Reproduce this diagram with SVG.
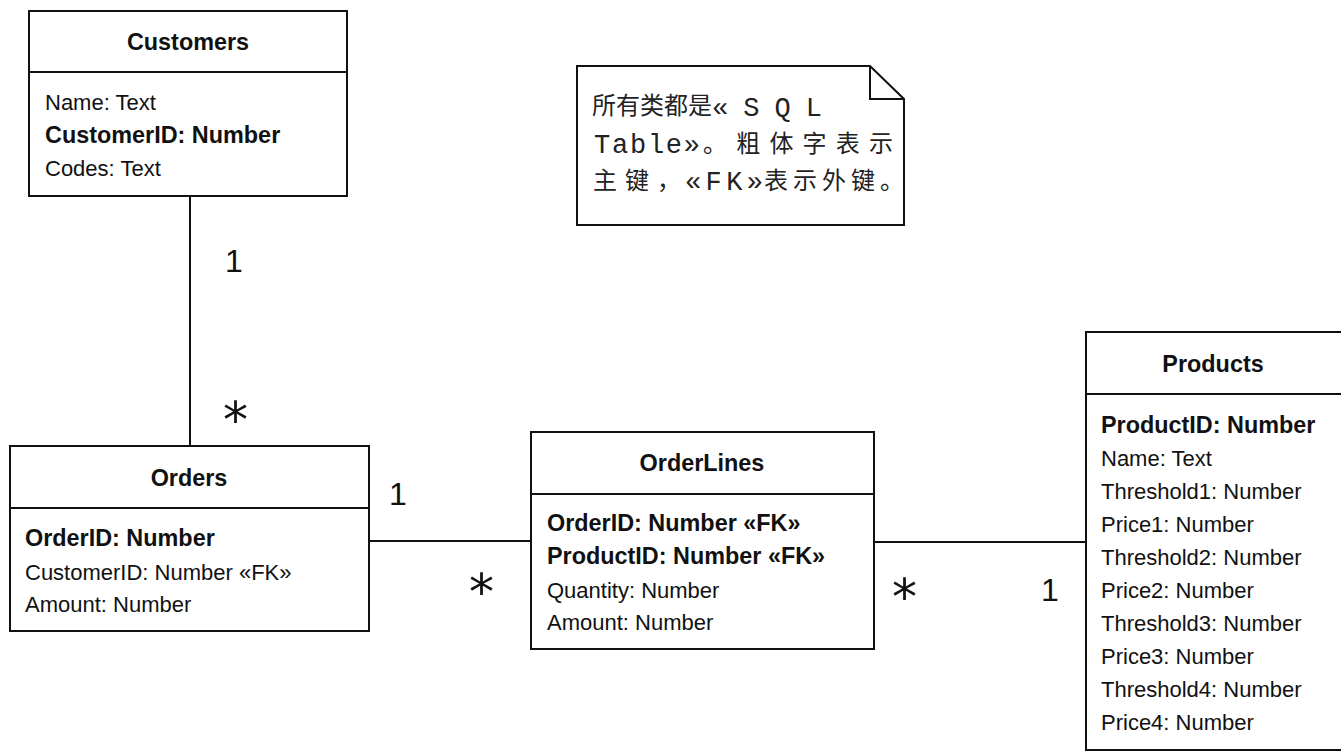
<svg xmlns="http://www.w3.org/2000/svg" width="1341" height="753" viewBox="0 0 1341 753">
<style>
.box{fill:#fff;stroke:#111;stroke-width:2}
.ln{stroke:#111;stroke-width:2;fill:none}
.t{font-family:"Liberation Sans",Arial,sans-serif;font-weight:bold;font-size:23.4px;fill:#111;text-anchor:middle}
.a{font-family:"Liberation Sans",Arial,sans-serif;font-size:22px;fill:#111}
.b{font-family:"Liberation Sans",Arial,sans-serif;font-size:23.4px;font-weight:bold;fill:#111}
.m{font-family:"Liberation Sans",Arial,sans-serif;font-size:32px;fill:#111}
.s{font-family:"DejaVu Sans",sans-serif;font-size:50px;fill:#111}
.cj{font-family:"Noto Sans CJK SC",sans-serif;font-size:24px;fill:#222}
.mo{font-family:"Liberation Mono","Noto Sans CJK SC",monospace;font-size:27px;fill:#222}
</style>
<rect width="1341" height="753" fill="#fff"/>
<g id="connectors">
<line class="ln" x1="190" y1="196" x2="190" y2="446"/>
<line class="ln" x1="369" y1="541" x2="531" y2="541"/>
<line class="ln" x1="874" y1="542" x2="1086" y2="542"/>
<text class="m" x="225" y="272">1</text>
<text class="s" x="223" y="437">*</text>
<text class="m" x="389" y="505">1</text>
<text class="s" x="469" y="609">*</text>
<text class="s" x="892" y="614">*</text>
<text class="m" x="1041" y="601">1</text>
</g>
<g id="customers">
<rect class="box" x="29" y="11" width="318" height="185"/>
<line class="ln" x1="29" y1="72" x2="347" y2="72"/>
<text class="t" x="188" y="50">Customers</text>
<text class="a" x="45" y="110">Name: Text</text>
<text class="b" x="45" y="143">CustomerID: Number</text>
<text class="a" x="45" y="176">Codes: Text</text>
</g>
<g id="note">
<path class="box" d="M577,66 H870 L904,99 V225 H577 Z"/>
<path class="ln" d="M870,66 V99 H904"/>
<text class="cj" x="592" y="114" textLength="120" lengthAdjust="spacing">所有类都是</text>
<text class="mo" x="712" y="116" textLength="110" lengthAdjust="spacing">«SQL</text>
<text class="mo" x="594" y="153" textLength="106" lengthAdjust="spacing">Table»</text>
<text class="cj" x="703" y="152" textLength="190" lengthAdjust="spacing">。粗体字表示</text>
<text class="cj" x="593" y="189" textLength="88" lengthAdjust="spacing">主键，</text>
<text class="mo" x="685" y="190" textLength="78" lengthAdjust="spacing">«FK»</text>
<text class="cj" x="764" y="189" textLength="140" lengthAdjust="spacing">表示外键。</text>
</g>
<g id="orders">
<rect class="box" x="10" y="446" width="359" height="185"/>
<line class="ln" x1="10" y1="508" x2="369" y2="508"/>
<text class="t" x="189" y="486">Orders</text>
<text class="b" x="25" y="546">OrderID: Number</text>
<text class="a" x="25" y="580">CustomerID: Number «FK»</text>
<text class="a" x="25" y="612">Amount: Number</text>
</g>
<g id="orderlines">
<rect class="box" x="531" y="432" width="343" height="217"/>
<line class="ln" x1="531" y1="494" x2="874" y2="494"/>
<text class="t" x="702" y="471">OrderLines</text>
<text class="b" x="547" y="531">OrderID: Number «FK»</text>
<text class="b" x="547" y="564">ProductID: Number «FK»</text>
<text class="a" x="547" y="598">Quantity: Number</text>
<text class="a" x="547" y="630">Amount: Number</text>
</g>
<g id="products">
<rect class="box" x="1086" y="332" width="280" height="418"/>
<line class="ln" x1="1086" y1="394" x2="1341" y2="394"/>
<text class="t" x="1213" y="372">Products</text>
<text class="b" x="1101" y="433">ProductID: Number</text>
<text class="a" x="1101" y="466">Name: Text</text>
<text class="a" x="1101" y="499">Threshold1: Number</text>
<text class="a" x="1101" y="532">Price1: Number</text>
<text class="a" x="1101" y="565">Threshold2: Number</text>
<text class="a" x="1101" y="598">Price2: Number</text>
<text class="a" x="1101" y="631">Threshold3: Number</text>
<text class="a" x="1101" y="664">Price3: Number</text>
<text class="a" x="1101" y="697">Threshold4: Number</text>
<text class="a" x="1101" y="730">Price4: Number</text>
</g>
</svg>
